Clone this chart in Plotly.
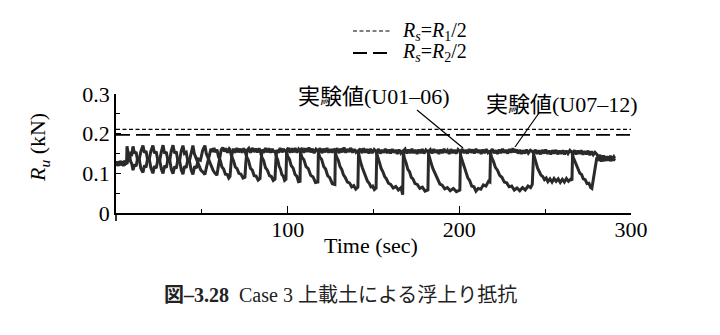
import plotly.graph_objects as go

# ---- data: (time in sec, Ru in kN) ----
u01_points = [
    (0, 0.121), (0.7, 0.130), (1.4, 0.119), (2.1, 0.131), (2.8, 0.122), (3.5, 0.129), (4.2, 0.118),
    (4.9, 0.132), (5.6, 0.123), (6.2, 0.128), (6.4, 0.168),
    (7.1, 0.150), (7.8, 0.148), (8.5, 0.130), (9.2, 0.124), (9.9, 0.108),
    (10.8, 0.122), (11.7, 0.118), (12.6, 0.138), (13.5, 0.135), (14.5, 0.155), (15.7, 0.170),
    (16.6, 0.152), (17.5, 0.156), (18.4, 0.134), (19.3, 0.138), (20.3, 0.114), (21.5, 0.100),
    (22.4, 0.118), (23.4, 0.113), (24.4, 0.135), (25.4, 0.132), (26.4, 0.154), (27.4, 0.171),
    (28.3, 0.150), (29.3, 0.154), (30.3, 0.131), (31.3, 0.134), (32.2, 0.110), (33.2, 0.099),
    (34.1, 0.117), (35.1, 0.112), (36.1, 0.136), (37.0, 0.131), (38.0, 0.156), (39.0, 0.170),
    (39.9, 0.150), (40.9, 0.153), (41.9, 0.129), (42.8, 0.131), (43.8, 0.108), (44.8, 0.097),
    (45.8, 0.118), (46.8, 0.113), (48.0, 0.136), (49.2, 0.133), (50.5, 0.158), (51.8, 0.170),
    (52.6, 0.150), (53.5, 0.140), (54.4, 0.128), (55.5, 0.117), (56.5, 0.108), (57.5, 0.101),
    (58.8, 0.095),
    (59.6, 0.118), (60.4, 0.140), (61.3, 0.160), (62.2, 0.165), (63.1, 0.155), (64.0, 0.163),
    (65.0, 0.152), (66.0, 0.162), (66.4, 0.160),
    (67.4, 0.142), (68.5, 0.131), (69.5, 0.116), (70.5, 0.112), (71.6, 0.100), (72.8, 0.098),
    (74.0, 0.088), (75.1, 0.090),
    (75.6, 0.125), (76.3, 0.158), (77.3, 0.163), (78.3, 0.152), (79.3, 0.164), (80.3, 0.154),
    (81.3, 0.162), (82.3, 0.153), (83.3, 0.163), (83.9, 0.158),
    (85.0, 0.140), (86.0, 0.132), (87.1, 0.114), (88.2, 0.108), (89.4, 0.094), (90.5, 0.092),
    (91.6, 0.082), (92.6, 0.085),
    (93.1, 0.130), (93.6, 0.159), (94.6, 0.152), (95.6, 0.164), (96.6, 0.153), (97.6, 0.162),
    (98.4, 0.154), (99.0, 0.160),
    (100.0, 0.143), (101.0, 0.136), (102.1, 0.119), (103.2, 0.113), (104.3, 0.097), (105.3, 0.093),
    (106.3, 0.079), (107.2, 0.080),
    (107.5, 0.158), (108.4, 0.164), (109.4, 0.152), (110.4, 0.163), (111.4, 0.154), (112.4, 0.165),
    (113.4, 0.153), (114.4, 0.162), (115.4, 0.151), (116.5, 0.161), (117.6, 0.157),
    (118.7, 0.141), (119.8, 0.135), (121.0, 0.117), (122.1, 0.111), (123.3, 0.094), (124.5, 0.089),
    (126.0, 0.074), (127.5, 0.072),
    (127.8, 0.156), (128.8, 0.163), (129.8, 0.151), (130.8, 0.162), (131.8, 0.153), (132.8, 0.165),
    (133.8, 0.152), (134.8, 0.161), (135.8, 0.154), (136.8, 0.164), (137.8, 0.152), (138.8, 0.161),
    (139.8, 0.153), (140.9, 0.158),
    (141.7, 0.140), (142.5, 0.128), (143.5, 0.114), (144.5, 0.102), (145.5, 0.090), (146.5, 0.080),
    (147.5, 0.075), (148.5, 0.066), (149.5, 0.068), (150.5, 0.059), (151.5, 0.063),
    (151.9, 0.155), (152.9, 0.161), (153.9, 0.150), (154.9, 0.159), (155.9, 0.152), (156.9, 0.162),
    (157.9, 0.151), (158.9, 0.160), (159.9, 0.150), (160.9, 0.161), (161.9, 0.152), (162.9, 0.159),
    (163.9, 0.149), (164.9, 0.160), (165.9, 0.151), (167.2, 0.158),
    (168.0, 0.138), (169.0, 0.126), (170.0, 0.110), (171.0, 0.104), (172.0, 0.090), (173.0, 0.086),
    (174.2, 0.074), (175.5, 0.072), (177.0, 0.062), (178.5, 0.065), (180.0, 0.055), (181.7, 0.058),
    (182.1, 0.156), (183.1, 0.160), (184.1, 0.150), (185.1, 0.161), (186.1, 0.152), (187.1, 0.159),
    (188.1, 0.149), (189.1, 0.160), (190.1, 0.151), (191.1, 0.162), (192.1, 0.152), (193.1, 0.158),
    (194.1, 0.149), (195.1, 0.161), (196.1, 0.151), (197.1, 0.159), (198.1, 0.150), (199.2, 0.160),
    (200.3, 0.155),
    (201.1, 0.140), (202.0, 0.128), (203.0, 0.112), (204.0, 0.103), (205.0, 0.088), (206.0, 0.082),
    (207.2, 0.068), (208.5, 0.066), (209.7, 0.055), (211.0, 0.062), (212.5, 0.060), (214.0, 0.071),
    (215.5, 0.068), (217.0, 0.080), (217.8, 0.078),
    (218.2, 0.155), (219.2, 0.161), (220.2, 0.151), (221.2, 0.158), (222.2, 0.149), (223.2, 0.160),
    (224.2, 0.151), (225.2, 0.162), (226.2, 0.152), (227.2, 0.159), (228.2, 0.150), (229.2, 0.161),
    (230.2, 0.152), (231.2, 0.163), (232.2, 0.153), (233.2, 0.160), (234.2, 0.150), (235.2, 0.159),
    (236.2, 0.149), (237.2, 0.158), (238.2, 0.150), (239.2, 0.160), (240.2, 0.151), (241.4, 0.158),
    (242.9, 0.154),
    (243.8, 0.138), (244.7, 0.124), (245.6, 0.113), (246.6, 0.104), (247.6, 0.095), (248.6, 0.092),
    (249.6, 0.084), (250.6, 0.088), (251.6, 0.079), (252.8, 0.086), (254.0, 0.078), (255.2, 0.087),
    (256.4, 0.080), (257.6, 0.086), (258.8, 0.077), (260.0, 0.085), (261.2, 0.078), (262.4, 0.087),
    (263.6, 0.080), (264.8, 0.085), (265.6, 0.082),
    (266.0, 0.152), (267.0, 0.158), (268.0, 0.148), (269.0, 0.157), (270.0, 0.149), (271.0, 0.158),
    (272.0, 0.147), (273.0, 0.156), (274.0, 0.148), (275.0, 0.157), (276.0, 0.146), (277.0, 0.155),
    (278.0, 0.147), (279.0, 0.153), (280.1, 0.148),
    (281.0, 0.140), (282.0, 0.146), (283.0, 0.135), (284.0, 0.145), (285.0, 0.134), (286.0, 0.143),
    (287.0, 0.133), (288.0, 0.144), (289.0, 0.135), (290.0, 0.142), (290.5, 0.138),
]

u07_points = [
    (0, 0.127), (0.7, 0.119), (1.4, 0.129), (2.1, 0.120), (2.8, 0.131), (3.5, 0.121), (4.2, 0.130),
    (4.9, 0.120), (5.6, 0.128), (6.4, 0.124),
    (7.1, 0.138), (7.8, 0.135), (8.5, 0.150), (9.2, 0.148), (9.9, 0.168),
    (10.8, 0.150), (11.7, 0.154), (12.6, 0.132), (13.5, 0.136), (14.5, 0.112), (15.7, 0.102),
    (16.6, 0.120), (17.5, 0.115), (18.4, 0.137), (19.3, 0.134), (20.3, 0.156), (21.5, 0.170),
    (22.4, 0.151), (23.4, 0.155), (24.4, 0.132), (25.4, 0.135), (26.4, 0.111), (27.4, 0.100),
    (28.3, 0.119), (29.3, 0.114), (30.3, 0.137), (31.3, 0.133), (32.2, 0.157), (33.2, 0.171),
    (34.1, 0.151), (35.1, 0.155), (36.1, 0.130), (37.0, 0.133), (38.0, 0.109), (39.0, 0.098),
    (39.9, 0.118), (40.9, 0.114), (41.9, 0.136), (42.8, 0.132), (43.8, 0.156), (44.8, 0.170),
    (45.6, 0.150), (46.5, 0.141), (47.4, 0.128), (48.4, 0.120), (49.4, 0.108), (50.5, 0.104),
    (51.8, 0.097),
    (52.6, 0.113), (53.5, 0.128), (54.4, 0.145), (55.3, 0.162), (56.2, 0.154), (57.1, 0.164),
    (58.0, 0.153), (58.8, 0.160),
    (59.7, 0.142), (60.7, 0.133), (61.7, 0.116), (62.7, 0.111), (63.7, 0.098), (64.8, 0.097),
    (65.7, 0.088), (66.4, 0.092),
    (67.0, 0.125), (67.6, 0.150), (68.4, 0.162), (69.4, 0.152), (70.4, 0.164), (71.4, 0.153),
    (72.4, 0.162), (73.4, 0.152), (74.4, 0.163), (75.1, 0.157),
    (76.1, 0.142), (77.2, 0.132), (78.3, 0.113), (79.4, 0.108), (80.5, 0.094), (81.6, 0.093),
    (82.8, 0.083), (83.9, 0.087),
    (84.5, 0.130), (85.1, 0.160), (86.1, 0.152), (87.1, 0.164), (88.1, 0.153), (89.1, 0.163),
    (90.1, 0.152), (91.1, 0.162), (92.0, 0.153), (92.6, 0.158),
    (93.4, 0.142), (94.2, 0.134), (95.0, 0.118), (95.8, 0.111), (96.6, 0.097), (97.4, 0.093),
    (98.2, 0.082), (99.0, 0.085),
    (99.4, 0.158), (100.4, 0.164), (101.4, 0.152), (102.4, 0.163), (103.4, 0.153), (104.4, 0.164),
    (105.4, 0.152), (106.4, 0.161), (107.2, 0.156),
    (108.3, 0.141), (109.5, 0.134), (110.7, 0.117), (112.0, 0.112), (113.4, 0.095), (114.8, 0.091),
    (116.2, 0.077), (117.6, 0.078),
    (117.9, 0.157), (118.9, 0.163), (119.9, 0.151), (120.9, 0.162), (121.9, 0.153), (122.9, 0.164),
    (123.9, 0.152), (124.9, 0.161), (125.9, 0.152), (126.9, 0.162), (127.5, 0.157),
    (128.5, 0.141), (129.5, 0.133), (130.5, 0.117), (131.5, 0.110), (132.5, 0.096), (133.5, 0.090),
    (134.8, 0.078), (136.0, 0.076), (137.3, 0.066), (138.5, 0.069), (139.7, 0.060), (140.9, 0.065),
    (141.3, 0.156), (142.3, 0.162), (143.3, 0.151), (144.3, 0.163), (145.3, 0.152), (146.3, 0.161),
    (147.3, 0.150), (148.3, 0.162), (149.3, 0.151), (150.4, 0.160), (151.5, 0.155),
    (152.5, 0.138), (153.5, 0.127), (154.5, 0.112), (155.5, 0.104), (156.5, 0.092), (157.5, 0.086),
    (158.7, 0.075), (160.0, 0.072), (161.5, 0.063), (163.0, 0.067), (164.5, 0.058), (166.0, 0.064),
    (166.8, 0.050), (167.0, 0.046),
    (167.4, 0.156), (168.4, 0.161), (169.4, 0.150), (170.4, 0.160), (171.4, 0.151), (172.4, 0.162),
    (173.4, 0.151), (174.4, 0.159), (175.4, 0.149), (176.4, 0.160), (177.4, 0.151), (178.4, 0.161),
    (179.4, 0.150), (180.5, 0.159), (181.7, 0.154),
    (182.6, 0.138), (183.5, 0.127), (184.5, 0.113), (185.5, 0.104), (186.5, 0.091), (187.5, 0.084),
    (188.7, 0.073), (190.0, 0.070), (191.5, 0.061), (193.0, 0.064), (194.7, 0.056), (196.5, 0.062),
    (198.3, 0.054), (200.3, 0.058),
    (200.7, 0.155), (201.7, 0.161), (202.7, 0.151), (203.7, 0.159), (204.7, 0.150), (205.7, 0.161),
    (206.7, 0.152), (207.7, 0.160), (208.7, 0.150), (209.7, 0.162), (210.7, 0.152), (211.7, 0.159),
    (212.7, 0.149), (213.7, 0.160), (214.7, 0.151), (215.7, 0.161), (216.7, 0.152), (217.8, 0.157),
    (218.8, 0.140), (219.9, 0.130), (221.0, 0.115), (222.2, 0.108), (223.5, 0.095), (224.8, 0.090),
    (226.2, 0.078), (227.6, 0.076), (229.0, 0.066), (230.5, 0.068), (232.0, 0.058), (233.6, 0.063),
    (235.2, 0.056), (236.8, 0.064), (238.4, 0.058), (240.0, 0.068), (241.5, 0.064), (242.5, 0.072),
    (243.3, 0.153), (244.3, 0.159), (245.3, 0.149), (246.3, 0.158), (247.3, 0.148), (248.3, 0.159),
    (249.3, 0.150), (250.3, 0.160), (251.3, 0.149), (252.3, 0.157), (253.3, 0.148), (254.3, 0.158),
    (255.3, 0.150), (256.3, 0.159), (257.3, 0.148), (258.3, 0.157), (259.3, 0.149), (260.3, 0.158),
    (261.3, 0.148), (262.3, 0.157), (263.3, 0.150), (264.4, 0.158), (265.6, 0.153),
    (266.4, 0.140), (267.3, 0.131), (268.2, 0.118), (269.2, 0.112), (270.2, 0.100), (271.2, 0.097),
    (272.2, 0.086), (273.3, 0.084), (274.4, 0.074), (275.5, 0.075), (276.5, 0.064), (277.2, 0.062),
    (278.0, 0.085), (278.8, 0.104), (279.5, 0.125), (280.1, 0.140),
    (280.9, 0.132), (281.8, 0.141), (282.7, 0.130), (283.6, 0.140), (284.5, 0.131), (285.4, 0.142),
    (286.3, 0.132), (287.2, 0.141), (288.1, 0.131), (289.0, 0.140), (289.8, 0.132), (290.5, 0.138),
]

ref_x = [0, 300]
rs_r1_half = 0.211   # Rs = R1/2
rs_r2_half = 0.197   # Rs = R2/2

x_ticks = [100, 200, 300]
x_ticktext = ["100", "200", "300"]
y_ticks = [0, 0.1, 0.2, 0.3]
y_ticktext = ["0", "0.1", "0.2", "0.3"]

FONT = "Liberation Serif, Noto Sans CJK JP, serif"
INK = "#2a2a2a"

t_u01, v_u01 = zip(*u01_points)
t_u07, v_u07 = zip(*u07_points)

fig = go.Figure()
fig.add_trace(go.Scatter(x=ref_x, y=[rs_r1_half, rs_r1_half], mode="lines",
                         line=dict(color="black", width=1.2, dash="4px,2.5px"), showlegend=False))
fig.add_trace(go.Scatter(x=ref_x, y=[rs_r2_half, rs_r2_half], mode="lines",
                         line=dict(color="black", width=1.8, dash="14px,6px"), showlegend=False))
fig.add_trace(go.Scatter(x=list(t_u01), y=list(v_u01), mode="lines", name="実験値(U01–06)",
                         line=dict(color=INK, width=3), showlegend=False))
fig.add_trace(go.Scatter(x=list(t_u07), y=list(v_u07), mode="lines", name="実験値(U07–12)",
                         line=dict(color=INK, width=3), showlegend=False))

L, R, T, B = 116, 89, 94, 122
W, H = 720, 335
pw, ph = W - L - R, H - T - B

def px(x):
    return (x - L) / pw

def py(y):
    return (H - B - y) / ph

fig.update_layout(
    width=W, height=H, autosize=False,
    margin=dict(l=L, r=R, t=T, b=B, pad=0),
    plot_bgcolor="white", paper_bgcolor="white",
    font=dict(family=FONT, size=22, color="black"),
    xaxis=dict(range=[0, 300], showline=True, linecolor="black", linewidth=1.6,
               tickvals=x_ticks, ticktext=x_ticktext, ticks="inside", ticklen=7,
               tickcolor="black", tickwidth=1.3, showgrid=False, zeroline=False,
               ticklabelstandoff=-4,
               minor=dict(tickvals=[50, 150, 250], ticks="inside", ticklen=4,
                          tickcolor="black", tickwidth=1.2),
               tickfont=dict(family=FONT, size=22)),
    yaxis=dict(range=[0, 0.3], showline=True, linecolor="black", linewidth=1.6,
               tickvals=y_ticks, ticktext=y_ticktext, ticks="inside", ticklen=5,
               tickcolor="black", tickwidth=1.3, showgrid=False, zeroline=False,
               minor=dict(tickvals=[0.05, 0.15, 0.25], ticks="inside", ticklen=4,
                          tickcolor="black", tickwidth=1.2),
               tickfont=dict(family=FONT, size=22)),
)

shapes = [
    dict(type="line", xref="paper", yref="paper", x0=0, x1=0, y0=0, y1=py(221),
         line=dict(color="black", width=1.6)),
    dict(type="line", xref="paper", yref="paper", x0=px(353), x1=px(392), y0=py(31), y1=py(31),
         line=dict(color="black", width=1.2, dash="4px,2.5px")),
    dict(type="line", xref="paper", yref="paper", x0=px(353), x1=px(388), y0=py(53), y1=py(53),
         line=dict(color="black", width=1.8, dash="14px,6px")),
    dict(type="line", xref="paper", yref="paper", x0=px(417), y0=py(110), x1=px(463), y1=py(148),
         line=dict(color="black", width=1.2)),
    dict(type="line", xref="paper", yref="paper", x0=px(539), y0=py(113), x1=px(515), y1=py(147),
         line=dict(color="black", width=1.2)),
]
fig.update_layout(shapes=shapes)

ann = [
    dict(text="<i>R</i><sub><i>s</i></sub>=<i>R</i><sub>1</sub>/2", x=px(400), y=py(31),
         xanchor="left", yanchor="middle", font=dict(size=20)),
    dict(text="<i>R</i><sub><i>s</i></sub>=<i>R</i><sub>2</sub>/2", x=px(400), y=py(53),
         xanchor="left", yanchor="middle", font=dict(size=20)),
    dict(text="実験値(U01–06)", x=px(374), y=py(96), xanchor="center", yanchor="middle",
         font=dict(size=22)),
    dict(text="実験値(U07–12)", x=px(562), y=py(104), xanchor="center", yanchor="middle",
         font=dict(size=22)),
    dict(text="<i>R</i><sub><i>u</i></sub> (kN)", x=px(39), y=py(148), textangle=-90,
         xanchor="center", yanchor="middle", font=dict(size=22)),
    dict(text="Time (sec)", x=px(371), y=py(245), xanchor="center", yanchor="middle",
         font=dict(size=22)),
    dict(text="<b>図–3.28</b>  Case 3 上載土による浮上り抵抗", x=px(340), y=py(295),
         xanchor="center", yanchor="middle", font=dict(size=20, color="#222")),
]
for a in ann:
    a.update(xref="paper", yref="paper", showarrow=False)
fig.update_layout(annotations=ann)

fig.write_html("out.html")
